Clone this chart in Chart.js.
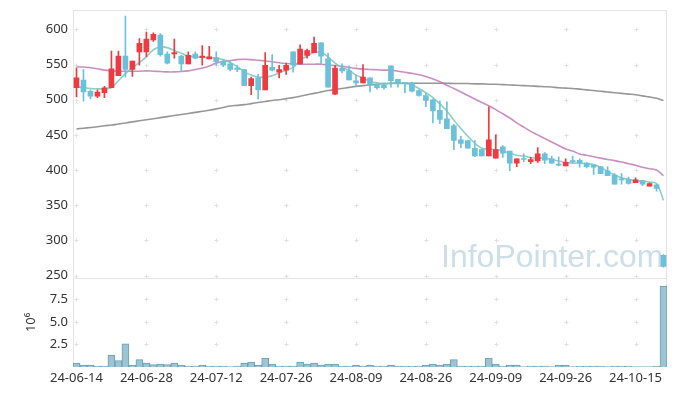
<!DOCTYPE html>
<html>
<head>
<meta charset="utf-8">
<script src="https://cdn.jsdelivr.net/npm/chart.js@4.4.1/dist/chart.umd.min.js"></script>
<style>
  html, body { margin: 0; padding: 0; background: #fff; }
  #wrap { width: 677px; height: 396px; }
</style>
</head>
<body>
<div id="wrap"><canvas id="chart" width="677" height="396"></canvas></div>
<script>
// ── DATA ───────────────────────────────────────────────
const dates = [
  '24-06-14','24-06-17','24-06-18','24-06-19','24-06-20','24-06-21','24-06-24','24-06-25','24-06-26','24-06-27',
  '24-06-28','24-07-01','24-07-02','24-07-03','24-07-04','24-07-05','24-07-08','24-07-09','24-07-10','24-07-11',
  '24-07-12','24-07-15','24-07-16','24-07-17','24-07-18','24-07-19','24-07-22','24-07-23','24-07-24','24-07-25',
  '24-07-26','24-07-29','24-07-30','24-07-31','24-08-01','24-08-02','24-08-05','24-08-06','24-08-07','24-08-08',
  '24-08-09','24-08-12','24-08-13','24-08-14','24-08-16','24-08-19','24-08-20','24-08-21','24-08-22','24-08-23',
  '24-08-26','24-08-27','24-08-28','24-08-29','24-08-30','24-09-02','24-09-03','24-09-04','24-09-05','24-09-06',
  '24-09-09','24-09-10','24-09-11','24-09-12','24-09-13','24-09-19','24-09-20','24-09-23','24-09-24','24-09-25',
  '24-09-26','24-09-27','24-09-30','24-10-02','24-10-04','24-10-07','24-10-08','24-10-10','24-10-11','24-10-14',
  '24-10-15','24-10-16','24-10-17','24-10-18','24-10-21'
];

const opens  = [517,528,512,505,510,517,534,562,543,568,568,585,592,565,565,562,551,565,560,558,
                560,555,551,545,543,520,531,514,546,539,542,568,551,563,567,581,558,508,545,541,
                527,524,531,521,521,548,529,524,524,513,506,500,485,473,463,443,442,431,429,420,
                417,433,427,410,416,412,413,423,416,408,406,413,414,410,407,405,399,393,387,387,
                382,385,377,379,279];
const highs  = [545,543,514,514,519,569,569,619,555,587,596,595,594,568,586,563,568,568,577,576,
                568,557,554,549,543,532,536,567,564,549,552,568,578,572,589,581,566,549,551,548,
                535,550,531,523,523,548,529,524,525,514,509,501,498,497,465,448,442,442,430,490,
                450,435,427,416,423,418,432,425,420,419,416,420,416,411,407,405,405,395,395,390,
                389,385,382,380,280];
const lows   = [504,498,501,503,503,517,534,532,533,549,561,583,562,551,559,541,551,558,549,558,
                549,547,541,540,520,507,501,514,541,531,536,539,551,559,567,551,518,507,538,528,
                519,524,511,515,515,518,518,510,511,505,490,467,466,459,429,432,431,419,420,420,
                417,418,399,405,412,409,411,409,410,406,406,410,404,403,394,395,392,380,380,380,
                382,378,377,370,262];
const closes = [531,511,505,511,517,544,562,543,555,580,586,593,564,552,567,551,563,559,562,561,
                554,549,543,543,520,530,514,549,542,543,549,549,572,570,580,562,518,545,541,528,
                524,532,521,517,517,527,523,523,512,506,499,484,472,459,442,438,431,420,420,443,
                429,424,410,416,415,415,423,414,410,407,411,412,410,405,404,395,392,380,386,381,
                386,380,381,374,263];

const ma5  = [519,517,516,515.5,515.5,517,527,537,545,553,561,571,575,574,570,566,562,561,560,560,
              559,557,553,547,540,535,532,532,534,538,542,546,556,562,567,567,561,552,546,542,
              535,531,526,524,523,523,523,523,521,516,510,503,494,484,471,459,448,438,431,430,
              429,427,424,421,420,418,417,417,415,413,411,410,410,409,408,404,398,393,389,387,
              385,384,383,381,357];
const ma20 = [546.5,546.5,545.5,544,542,541,540.5,540.5,540.5,540.5,541,540.5,540,539.5,539.5,540,541,543,545,548,
              552,554,555.5,557,557.5,557,556,555,554,552.5,551.5,551,550.5,550.5,550.5,550.5,549.5,548.5,547.5,546,
              544.5,543.5,543,542.5,542,542,540.5,539,537.5,535.5,533,529.5,525.5,520.5,516,511,506,501,496,491.5,
              486,480,474,467,461,455,450,445,440,435,430,427,423,421,419,417,415,413.5,411.5,409,
              407,404,402,400,392];
const ma60 = [458.5,459.5,460.5,461.5,463,464,465.5,467,468.5,470,471.5,473,474.5,476,477.5,479,480.5,482,483.5,485,
              487,489,491,492,493,494.5,496,497.5,499,500,501.5,503,505,507,509,511,513,514.5,516,517.5,
              519,520,521,522,523,523.5,523.5,523.5,523.5,523.5,523.5,523.5,523.5,523.5,523,523,523,522.5,522.5,522,
              522,521.5,521,520.5,520,519.5,519,518.5,518,517,516.5,516,515,514,513,512,511,510,509,508,
              507,505.5,504,502,499];

// volume in millions of shares
const volumes = [0.44,0.22,0.22,0.11,0.11,1.32,0.70,2.58,0.22,0.81,0.44,0.26,0.33,0.26,0.44,0.22,0.11,0.11,0.22,0.11,
                 0.11,0.11,0.03,0.11,0.44,0.55,0.22,0.99,0.33,0.11,0.11,0.11,0.55,0.33,0.44,0.22,0.33,0.33,0.11,0.11,
                 0.22,0.11,0.22,0.11,0.11,0.22,0.11,0.11,0.11,0.11,0.22,0.33,0.22,0.33,0.81,0.11,0.11,0.11,0.11,0.99,
                 0.33,0.11,0.22,0.22,0.03,0.11,0.11,0.11,0.03,0.22,0.22,0.03,0.11,0.11,0.11,0.11,0.03,0.11,0.11,0.11,
                 0.03,0.03,0.03,0.11,8.98];

// ── STYLE ──────────────────────────────────────────────
const UP = '#ee3a40';
const DOWN = '#6bc1d9';
const TEXT = '#333';
const FONT = { family: '"Noto Sans", sans-serif', size: 13 };
const candleColors = closes.map((c, i) => c >= opens[i] ? UP : DOWN);

// crosses at grid intersections, panel frame and watermark
const decor = {
  id: 'decor',
  beforeDatasetsDraw(chart) {
    const { ctx, chartArea: a, scales: { x, y, yv } } = chart;
    ctx.save();
    ctx.strokeStyle = '#e0e0e0';
    ctx.lineWidth = 1;
    const xs = dates.map((_, i) => i).filter(i => i % 10 === 0).map(i => Math.round(x.getPixelForValue(i)) + 0.5);
    const ys = [
      ...y.ticks.map(t => y.getPixelForValue(t.value)),
      ...yv.ticks.filter(t => t.value > 0).map(t => yv.getPixelForValue(t.value))
    ].map(v => Math.round(v) + 0.5);
    ctx.beginPath();
    xs.forEach(px => ys.forEach(py => {
      ctx.moveTo(px - 2, py); ctx.lineTo(px + 2, py);
      ctx.moveTo(px, py - 2); ctx.lineTo(px, py + 2);
    }));
    ctx.stroke();

    ctx.strokeStyle = '#e4e4e4';
    ctx.strokeRect(Math.round(a.left) + 0.5, Math.round(a.top) + 0.5,
                   Math.round(a.width) - 1, Math.round(a.height) - 1);
    ctx.beginPath();
    ctx.moveTo(a.left, Math.round(y.bottom) + 0.5);
    ctx.lineTo(a.right, Math.round(y.bottom) + 0.5);
    ctx.stroke();

    ctx.font = '32px "Liberation Sans", Arial, sans-serif';
    ctx.fillStyle = 'rgba(176, 204, 219, 0.65)';
    ctx.textBaseline = 'alphabetic';
    ctx.fillText('InfoPointer.com', a.right - 226, y.bottom - 11);
    ctx.restore();
  }
};

const lineSet = (label, data, color, order) => ({
  type: 'line', label, data, yAxisID: 'y', order,
  borderColor: color, borderWidth: 1.6, pointRadius: 0, tension: 0.35, fill: false
});

// fixed axis boxes, no extra label padding
const fixWidth = s => { s.width = 73; s.paddingTop = 0; s.paddingBottom = 0; };

const config = {
  type: 'bar',
  data: {
    labels: dates,
    datasets: [
      {
        label: 'body', data: opens.map((o, i) => [o, closes[i]]), yAxisID: 'y', order: 1,
        backgroundColor: candleColors, barThickness: 5, grouped: false, minBarLength: 1
      },
      {
        label: 'wick', data: lows.map((l, i) => [l, highs[i]]), yAxisID: 'y', order: 2,
        backgroundColor: candleColors, barThickness: 1, grouped: false
      },
      lineSet('MA5', ma5, 'rgba(120, 200, 185, 0.85)', 3),
      lineSet('MA20', ma20, 'rgba(196, 130, 190, 0.9)', 4),
      lineSet('MA60', ma60, 'rgba(140, 140, 140, 0.9)', 5),
      {
        label: 'volume', data: volumes, yAxisID: 'yv', order: 6,
        backgroundColor: '#9cc4d5', borderColor: '#6a9fb6', borderWidth: 1,
        barPercentage: 1, categoryPercentage: 1, grouped: false
      }
    ]
  },
  options: {
    responsive: false,
    animation: false,
    devicePixelRatio: 1,
    layout: { padding: { top: 10, right: 10, left: 0, bottom: 0 } },
    plugins: { legend: { display: false }, tooltip: { enabled: false } },
    scales: {
      x: {
        offset: true,
        grid: { display: false, drawTicks: false },
        border: { display: false },
        ticks: {
          autoSkip: false, maxRotation: 0, minRotation: 0, padding: 3,
          color: TEXT, font: FONT,
          callback(v, i) { return i % 10 === 0 ? this.getLabelForValue(v) : null; }
        },
        afterFit: s => { s.height = 29; s.paddingLeft = 0; s.paddingRight = 0; }
      },
      y: {
        position: 'left', stack: 'panes', stackWeight: 3, weight: 1,
        min: 247, max: 627.5,
        grid: { display: false, drawTicks: false },
        border: { display: false },
        ticks: { stepSize: 50, includeBounds: false, padding: 5, color: TEXT, font: FONT },
        afterFit: fixWidth
      },
      yv: {
        position: 'left', stack: 'panes', stackWeight: 1, weight: 0,
        min: 0, max: 9.9,
        grid: { display: false, drawTicks: false },
        border: { display: false },
        ticks: {
          stepSize: 2.5, includeBounds: false, padding: 5, color: TEXT, font: FONT,
          callback: v => v === 0 ? null : v.toFixed(1)
        },
        title: { display: true, text: '10⁶', color: TEXT, font: FONT, padding: { top: 23, bottom: 0 } },
        afterFit: fixWidth
      }
    }
  },
  plugins: [decor]
};

new Chart(document.getElementById('chart').getContext('2d'), config);
</script>
</body>
</html>
